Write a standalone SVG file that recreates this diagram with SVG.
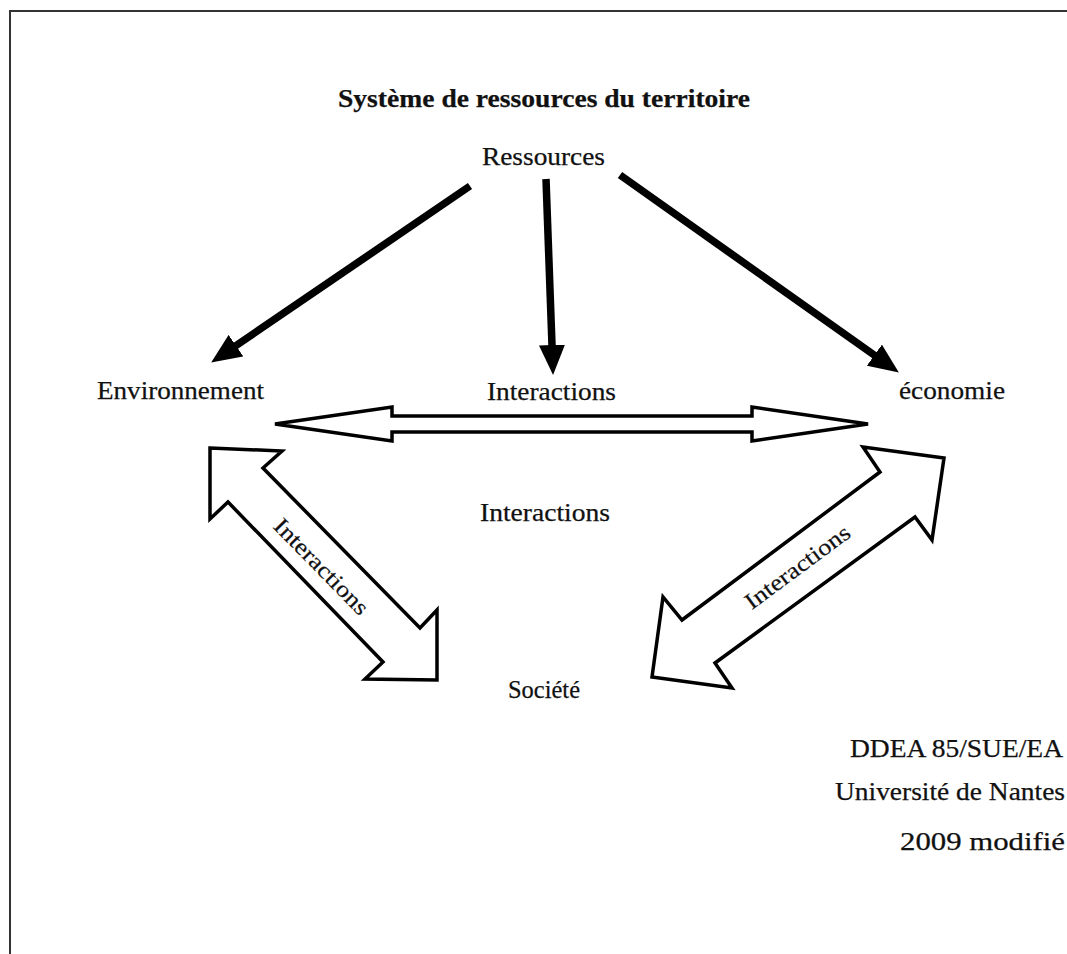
<svg xmlns="http://www.w3.org/2000/svg" width="1067" height="954" viewBox="0 0 1067 954">
<style>
.t{font-family:'Liberation Serif','Times New Roman',serif;font-size:25px;fill:#111;stroke:#111;stroke-width:0.25}
.b{font-weight:bold}
.lbl{font-family:'Liberation Serif','Times New Roman',serif;font-size:23px;fill:#111;stroke:#111;stroke-width:0.2}
.solid{stroke:#000;stroke-width:7.5;fill:none;marker-end:url(#head)}
.hollow{fill:#fff;stroke:#000;stroke-width:3.5;stroke-linejoin:miter}
</style>
<defs>
<marker id="head" markerUnits="userSpaceOnUse" viewBox="0 0 30 26" markerWidth="30" markerHeight="26" refX="14" refY="13" orient="auto">
<path d="M0,0 L30,13 L0,26 z" fill="#000"/>
</marker>
</defs>
<rect width="1067" height="954" fill="#fff"/>
<path d="M10,954 V11 H1067" fill="none" stroke="#333" stroke-width="2"/>

<g id="node-title"><text class="t b" x="338" y="107" textLength="412" lengthAdjust="spacingAndGlyphs">Système de ressources du territoire</text></g>
<g id="node-ressources"><text class="t" x="482" y="165" textLength="123" lengthAdjust="spacingAndGlyphs">Ressources</text></g>
<g id="node-environnement"><text class="t" x="97" y="399" textLength="167" lengthAdjust="spacingAndGlyphs">Environnement</text></g>
<g id="node-interactions-top"><text class="t" x="487" y="400" textLength="129" lengthAdjust="spacingAndGlyphs">Interactions</text></g>
<g id="node-economie"><text class="t" x="899" y="399" textLength="106" lengthAdjust="spacingAndGlyphs">économie</text></g>
<g id="node-interactions-mid"><text class="t" x="480" y="521" textLength="130" lengthAdjust="spacingAndGlyphs">Interactions</text></g>
<g id="node-societe"><text class="t" x="508" y="698" textLength="72" lengthAdjust="spacingAndGlyphs">Société</text></g>
<g id="node-credits">
<text class="t" x="850" y="757" textLength="213" lengthAdjust="spacingAndGlyphs">DDEA 85/SUE/EA</text>
<text class="t" x="835" y="800" textLength="230" lengthAdjust="spacingAndGlyphs">Université de Nantes</text>
<text class="t" x="900" y="850" textLength="165" lengthAdjust="spacingAndGlyphs">2009 modifié</text>
</g>

<g id="connectors">
<line class="solid" x1="470" y1="186" x2="224.4" y2="353.5"/>
<line class="solid" x1="546" y1="179" x2="552.5" y2="359"/>
<line class="solid" x1="620" y1="175" x2="885.8" y2="363.3"/>

<polygon class="hollow" points="275,424 392,407 392,416 752,416 752,407 868,424 752,441 752,432 392,432 392,441"/>

<polygon class="hollow" points="210,448 282,451 263,468 420,628 437,610 437,680 365,679 383,662 228,502 210,519"/>
<text class="lbl" transform="translate(316,572) rotate(45.6)" text-anchor="middle" textLength="125" lengthAdjust="spacingAndGlyphs">Interactions</text>

<polygon class="hollow" points="944,458 863,447 880,472 682,620 663,597 652,677 732,688 715,663 915,517 932,540"/>
<text class="lbl" transform="translate(802,573) rotate(-36.6)" text-anchor="middle" textLength="125" lengthAdjust="spacingAndGlyphs">Interactions</text>
</g>
</svg>
